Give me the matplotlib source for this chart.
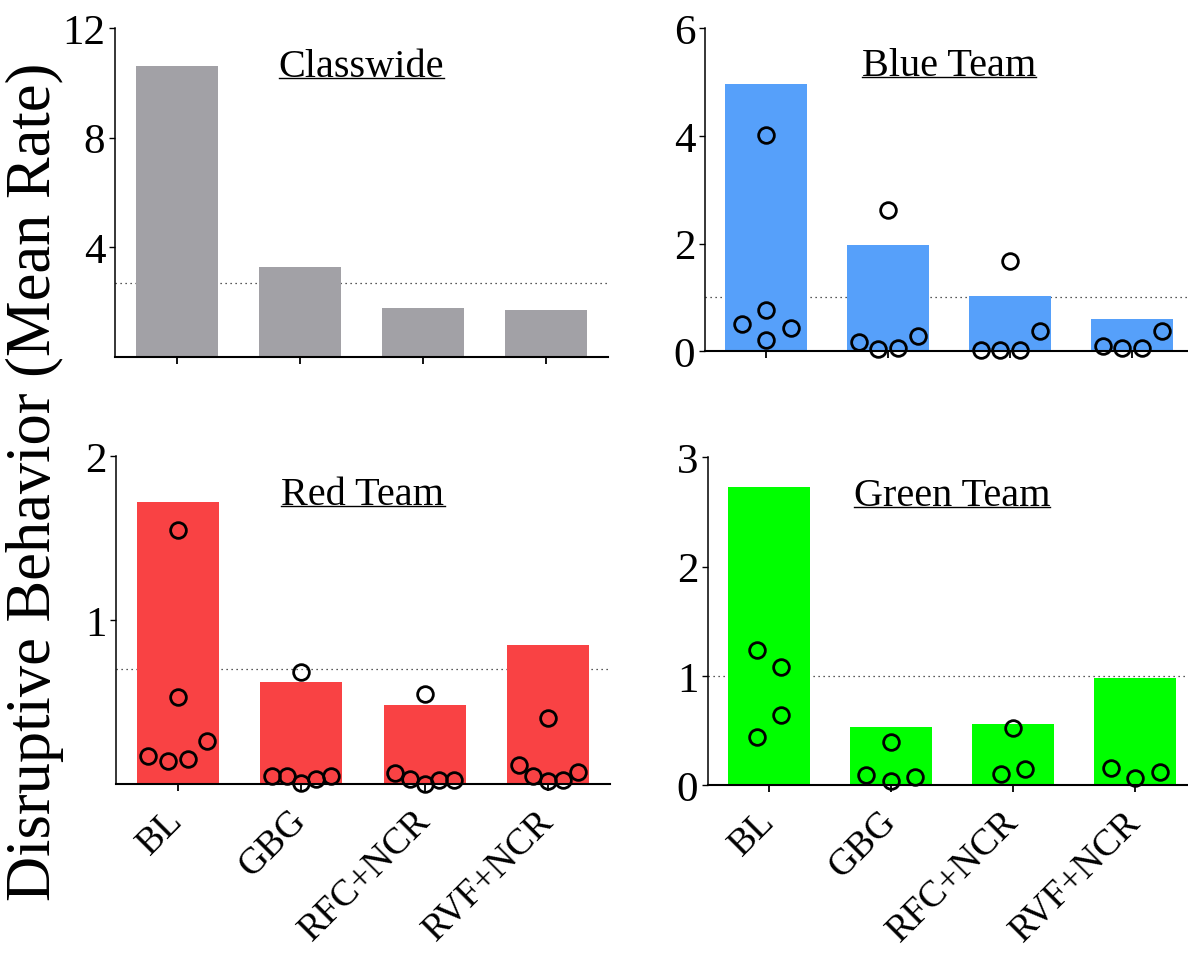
import matplotlib
matplotlib.use("Agg")
import matplotlib.pyplot as plt
from matplotlib.lines import Line2D
import numpy as np

plt.rcParams["font.family"] = ["Liberation Serif", "DejaVu Serif"]

# ---- data ---------------------------------------------------------------
phases = ["BL", "GBG", "RFC+NCR", "RVF+NCR"]

classwide_means = [10.63, 3.28, 1.77, 1.71]
classwide_ref = 2.70

blue_means = [4.97, 1.98, 1.02, 0.60]
blue_ref = 1.0
blue_points = [
    [0.51, 0.21, 0.43, 0.77, 4.01],
    [0.17, 0.04, 0.07, 0.29, 2.63],
    [0.02, 0.02, 0.02, 0.38, 1.68],
    [0.09, 0.06, 0.07, 0.38],
]

red_means = [1.72, 0.62, 0.48, 0.85]
red_ref = 0.70
red_points = [
    [0.17, 0.14, 0.15, 0.26, 0.53, 1.55],
    [0.05, 0.05, 0.006, 0.03, 0.05, 0.68],
    [0.07, 0.03, 0.0, 0.025, 0.025, 0.55],
    [0.116, 0.05, 0.02, 0.026, 0.072, 0.40],
]

green_means = [2.73, 0.53, 0.56, 0.98]
green_ref = 1.0
green_points = [
    [1.24, 0.44, 1.08, 0.64],
    [0.09, 0.04, 0.07, 0.39],
    [0.10, 0.15, 0.52],
    [0.155, 0.06, 0.12],
]

# ---- figure -------------------------------------------------------------
W, H = 1188, 954
DPI = 100
fig = plt.figure(figsize=(W / DPI, H / DPI), dpi=DPI)


def px_box(left, top, right, bottom):
    return [left / W, 1 - bottom / H, (right - left) / W, (bottom - top) / H]


def spread_offsets(values, ax, thresh_px=25.0, step_max=24.5, span_px=59.0):
    """Horizontal offsets (data units) so nearby points sit side by side."""
    vals = np.asarray(values, dtype=float)
    y_ppu = abs(ax.transData.transform((0, 1))[1] - ax.transData.transform((0, 0))[1])
    x_ppu = abs(ax.transData.transform((1, 0))[0] - ax.transData.transform((0, 0))[0])
    order = np.argsort(vals, kind="stable")
    groups = []
    for i in order:
        if groups and (vals[i] - vals[groups[-1][0]]) * y_ppu <= thresh_px:
            groups[-1].append(i)
        else:
            groups.append([i])
    offs = np.zeros(len(vals))
    for g in groups:
        g = sorted(g)
        n = len(g)
        if n == 1:
            continue
        step = min(step_max, span_px / (n - 1))
        for k, i in enumerate(g):
            offs[i] = (k - (n - 1) / 2) * step / x_ppu
    return offs


def panel(box, means, ref, color, title, ylim, yticks, points=None, xlabels=False):
    ax = fig.add_axes(box)
    x = np.arange(len(phases))
    ax.set_xlim(-0.5, 3.5)
    ax.set_ylim(*ylim)
    ax.axhline(ref, color="#222222", lw=0.9, ls=(0, (1, 3)), zorder=1)
    ax.bar(x, means, width=0.665, color=color, zorder=2)
    if points is not None:
        for xi, pts in zip(x, points):
            offs = spread_offsets(pts, ax)
            ax.plot(xi + offs, pts, ls="none", marker="o", ms=11.3,
                    mfc="none", mec="black", mew=2.0, zorder=4, clip_on=False)
    for side in ("top", "right"):
        ax.spines[side].set_visible(False)
    ax.spines["left"].set_linewidth(1.1)
    ax.spines["bottom"].set_linewidth(1.5)
    ax.set_yticks(yticks)
    ax.set_yticklabels([str(t) for t in yticks], fontsize=31)
    ax.set_xticks(x)
    if xlabels:
        ax.set_xticklabels(phases, fontsize=27, rotation=45, ha="right",
                           va="center", rotation_mode="anchor")
        ax.tick_params(axis="x", pad=17)
    else:
        ax.set_xticklabels([])
    ax.tick_params(axis="y", length=4, width=1.0, pad=3)
    ax.tick_params(axis="x", length=5, width=1.3)

    # underlined panel title
    t = ax.text(0.5, 0.855, title, transform=ax.transAxes, ha="center",
                va="baseline", fontsize=29, zorder=5)
    r = fig.canvas.get_renderer()
    bb = t.get_window_extent(renderer=r)
    base_y = ax.transAxes.transform((0.5, 0.855))[1] - 2.0
    fig.add_artist(Line2D([bb.x0 / W, bb.x1 / W], [base_y / H, base_y / H],
                          transform=fig.transFigure, color="black", lw=1.0))
    return ax


panel(px_box(115, 29.3, 608, 357.6), classwide_means, classwide_ref, "#A2A1A6",
      "Classwide", (0, 12), [4, 8, 12])
panel(px_box(705, 29.3, 1193, 352.3), blue_means, blue_ref, "#56A0FA",
      "Blue Team", (0, 6), [0, 2, 4, 6], points=blue_points)
panel(px_box(116, 457, 610, 785), red_means, red_ref, "#F94244",
      "Red Team", (0, 2), [1, 2], points=red_points, xlabels=True)
panel(px_box(708, 458.3, 1196, 786), green_means, green_ref, "#00FF00",
      "Green Team", (0, 3), [0, 1, 2, 3], points=green_points, xlabels=True)

fig.text(35 / W, 1 - 482 / H, "Disruptive Behavior (Mean Rate)", rotation=90,
         ha="center", va="center", fontsize=45)

fig.savefig("out.png", dpi=DPI)
